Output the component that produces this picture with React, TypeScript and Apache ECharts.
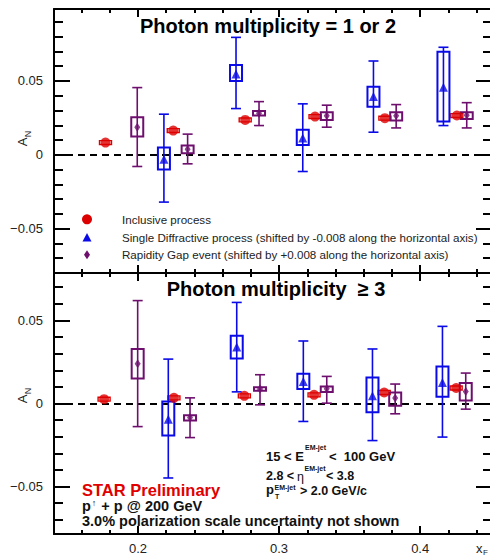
import React, { useEffect, useRef } from 'react';
import * as echarts from 'echarts';

// ---------- axis ranges & ticks ----------
const X_MIN = 0.1405;
const X_MAX = 0.4502;
const xMajorTicks = [0.2, 0.3, 0.4];
const xMajorLabels = ['0.2', '0.3', '0.4'];
const xMinorTicks = [0.16, 0.18, 0.22, 0.24, 0.26, 0.28, 0.32, 0.34, 0.36, 0.38, 0.42, 0.44];

const TOP_Y_MIN = -0.08;
const TOP_Y_MAX = 0.0987;
const BOT_Y_MIN = -0.0785;
const BOT_Y_MAX = 0.0785;
const yMajorTicks = [-0.05, 0, 0.05];
const yMajorLabels = ['\u22120.05', '0', '0.05'];
const topYMinorTicks = [-0.07, -0.06, -0.04, -0.03, -0.02, -0.01, 0.01, 0.02, 0.03, 0.04, 0.06, 0.07, 0.08, 0.09];
const botYMinorTicks = [-0.07, -0.06, -0.04, -0.03, -0.02, -0.01, 0.01, 0.02, 0.03, 0.04, 0.06, 0.07];

// ---------- top panel: photon multiplicity = 1 or 2 ----------
const topIncX = [0.177, 0.225, 0.276, 0.3255, 0.375, 0.426];
const topIncY = [0.0083, 0.0164, 0.0236, 0.0259, 0.0248, 0.0266];
const topIncSys = [0.0013, 0.0013, 0.0013, 0.0013, 0.0013, 0.0013];

const topSdX = [0.2184, 0.2695, 0.3168, 0.3669, 0.4165];
const topSdY = [-0.003, 0.0547, 0.0113, 0.0394, 0.0457];
const topSdErrLo = [-0.032, 0.0313, -0.0113, 0.0153, 0.0198];
const topSdErrHi = [0.0275, 0.0795, 0.0345, 0.0635, 0.0728];
const topSdBoxLo = [-0.01, 0.05, 0.0066, 0.0326, 0.0225];
const topSdBoxHi = [0.005, 0.0608, 0.0169, 0.0461, 0.0698];

const topRgX = [0.1995, 0.2352, 0.2858, 0.3338, 0.383, 0.433];
const topRgY = [0.0187, 0.0038, 0.0282, 0.0264, 0.0264, 0.0268];
const topRgErrLo = [-0.0079, -0.0061, 0.0198, 0.0187, 0.0182, 0.0182];
const topRgErrHi = [0.0455, 0.014, 0.036, 0.0336, 0.034, 0.0353];
const topRgBoxLo = [0.0124, 0.0011, 0.0266, 0.0236, 0.0232, 0.0243];
const topRgBoxHi = [0.0255, 0.0063, 0.0297, 0.0288, 0.0288, 0.0288];

// ---------- bottom panel: photon multiplicity >= 3 ----------
const botIncX = [0.176, 0.2255, 0.2754, 0.3248, 0.3745, 0.4255];
const botIncY = [0.0026, 0.0034, 0.0046, 0.0052, 0.0066, 0.0093];
const botIncSys = [0.0012, 0.0012, 0.0012, 0.0012, 0.0012, 0.0012];

const botSdX = [0.2215, 0.27, 0.3172, 0.3662, 0.4158];
const botSdY = [-0.0094, 0.034, 0.0133, 0.0046, 0.0127];
const botSdErrLo = [-0.0448, 0.007, -0.0108, -0.0223, -0.0202];
const botSdErrHi = [0.0267, 0.0608, 0.0376, 0.0328, 0.0464];
const botSdBoxLo = [-0.0193, 0.0271, 0.0087, -0.0052, 0.004];
const botSdBoxHi = [0.0012, 0.0408, 0.0179, 0.0157, 0.0223];

const botRgX = [0.1998, 0.2369, 0.2865, 0.3338, 0.3823, 0.4323];
const botRgY = [0.0239, -0.0084, 0.0087, 0.0089, 0.0033, 0.0072];
const botRgErrLo = [-0.0139, -0.0205, -0.0008, 0.0002, -0.0062, -0.0034];
const botRgErrHi = [0.0619, 0.0034, 0.0173, 0.0163, 0.0117, 0.0183];
const botRgBoxLo = [0.015, -0.0102, 0.0077, 0.0069, -0.0014, 0.0018];
const botRgBoxHi = [0.0328, -0.007, 0.0097, 0.0102, 0.0066, 0.0123];

// ---------- texts ----------
const topTitle = 'Photon multiplicity = 1 or 2';
const botTitle = 'Photon multiplicity  \u2265 3';
const legendNames = [
  'Inclusive process',
  'Single Diffractive process (shifted by -0.008 along the horizontal axis)',
  'Rapidity Gap event (shifted by +0.008 along the horizontal axis)',
];

const FONT = '"Liberation Sans", Arial, Helvetica, sans-serif';
const RED = '#dd0000';
const BLUE = '#0a0ae6';
const PURPLE = '#6e0f6e';
const BLACK = '#000';

const zip = (...arrs: number[][]) => arrs[0].map((_, i) => arrs.map((a) => a[i]));

function xAxes(gridIndex: number, withLabels: boolean) {
  const base = { gridIndex, type: 'value', min: X_MIN, max: X_MAX, splitLine: { show: false } };
  const tickStyle = { color: BLACK, width: 2 };
  return [
    {
      ...base,
      position: 'bottom',
      axisLine: { show: true, onZero: false, lineStyle: { color: BLACK, width: 2 } },
      axisTick: { show: true, inside: true, length: 8, customValues: xMajorTicks, lineStyle: tickStyle },
      axisLabel: {
        show: withLabels,
        customValues: xMajorTicks,
        margin: 8,
        fontSize: 13,
        fontFamily: FONT,
        color: '#222',
        formatter: (v: number) => xMajorLabels[xMajorTicks.findIndex((t) => Math.abs(t - v) < 1e-9)] ?? '',
      },
    },
    {
      ...base,
      position: 'bottom',
      axisLine: { show: false, onZero: false },
      axisTick: { show: true, inside: true, length: 4, customValues: xMinorTicks, lineStyle: tickStyle },
      axisLabel: { show: false },
    },
    {
      ...base,
      position: 'top',
      axisLine: { show: true, onZero: false, lineStyle: { color: BLACK, width: 2 } },
      axisTick: { show: true, inside: true, length: 8, customValues: xMajorTicks, lineStyle: tickStyle },
      axisLabel: { show: false },
    },
    {
      ...base,
      position: 'top',
      axisLine: { show: false, onZero: false },
      axisTick: { show: true, inside: true, length: 4, customValues: xMinorTicks, lineStyle: tickStyle },
      axisLabel: { show: false },
    },
  ];
}

function yAxes(gridIndex: number, min: number, max: number, minor: number[]) {
  const base = { gridIndex, type: 'value', min, max, splitLine: { show: false } };
  const tickStyle = { color: BLACK, width: 2 };
  return [
    {
      ...base,
      position: 'left',
      axisLine: { show: true, onZero: false, lineStyle: { color: BLACK, width: 2 } },
      axisTick: { show: true, inside: true, length: 16, customValues: yMajorTicks, lineStyle: tickStyle },
      axisLabel: {
        show: true,
        customValues: yMajorTicks,
        margin: 11,
        fontSize: 13,
        fontFamily: FONT,
        color: '#222',
        formatter: (v: number) => yMajorLabels[yMajorTicks.findIndex((t) => Math.abs(t - v) < 1e-9)] ?? '',
      },
    },
    {
      ...base,
      position: 'left',
      axisLine: { show: false, onZero: false },
      axisTick: { show: true, inside: true, length: 9, customValues: minor, lineStyle: tickStyle },
      axisLabel: { show: false },
    },
    {
      ...base,
      position: 'right',
      axisLine: { show: false, onZero: false },
      axisTick: { show: true, inside: true, length: 15, customValues: yMajorTicks, lineStyle: tickStyle },
      axisLabel: { show: false },
    },
    {
      ...base,
      position: 'right',
      axisLine: { show: false, onZero: false },
      axisTick: { show: true, inside: true, length: 8, customValues: minor, lineStyle: tickStyle },
      axisLabel: { show: false },
    },
  ];
}

function errorBarSeries(name: string, axisIdx: number, xs: number[], lo: number[], hi: number[], color: string) {
  return {
    name,
    type: 'custom',
    xAxisIndex: axisIdx,
    yAxisIndex: axisIdx,
    clip: false,
    encode: { x: 0, y: [1, 2] },
    data: zip(xs, lo, hi),
    renderItem: (_p: any, api: any) => {
      const x = api.value(0);
      const a = api.coord([x, api.value(1)]);
      const b = api.coord([x, api.value(2)]);
      const w = 5;
      const st = { stroke: color, lineWidth: 1.6 };
      return {
        type: 'group',
        children: [
          { type: 'line', shape: { x1: a[0], y1: a[1], x2: b[0], y2: b[1] }, style: st },
          { type: 'line', shape: { x1: a[0] - w, y1: a[1], x2: a[0] + w, y2: a[1] }, style: st },
          { type: 'line', shape: { x1: b[0] - w, y1: b[1], x2: b[0] + w, y2: b[1] }, style: st },
        ],
      };
    },
  };
}

function boxSeries(name: string, axisIdx: number, xs: number[], lo: number[], hi: number[], color: string, lw: number) {
  return {
    name,
    type: 'custom',
    xAxisIndex: axisIdx,
    yAxisIndex: axisIdx,
    clip: false,
    encode: { x: 0, y: [1, 2] },
    data: zip(xs, lo, hi),
    renderItem: (_p: any, api: any) => {
      const x = api.value(0);
      const a = api.coord([x, api.value(1)]);
      const b = api.coord([x, api.value(2)]);
      const hw = 6;
      return {
        type: 'rect',
        shape: { x: a[0] - hw, y: b[1], width: hw * 2, height: Math.max(a[1] - b[1], 3) },
        style: { stroke: color, fill: 'none', lineWidth: lw },
      };
    },
  };
}

function symmetricBox(ys: number[], sys: number[], sign: number) {
  return ys.map((y, i) => y + sign * sys[i]);
}

function panelSeries(
  axisIdx: number,
  inc: { x: number[]; y: number[]; sys: number[] },
  sd: { x: number[]; y: number[]; lo: number[]; hi: number[]; blo: number[]; bhi: number[] },
  rg: { x: number[]; y: number[]; lo: number[]; hi: number[]; blo: number[]; bhi: number[] },
) {
  return [
    boxSeries('incBox', axisIdx, inc.x, symmetricBox(inc.y, inc.sys, -1), symmetricBox(inc.y, inc.sys, 1), RED, 1.4),
    boxSeries('sdBox', axisIdx, sd.x, sd.blo, sd.bhi, BLUE, 2),
    boxSeries('rgBox', axisIdx, rg.x, rg.blo, rg.bhi, PURPLE, 2),
    errorBarSeries('sdErr', axisIdx, sd.x, sd.lo, sd.hi, BLUE),
    errorBarSeries('rgErr', axisIdx, rg.x, rg.lo, rg.hi, PURPLE),
    {
      name: legendNames[0],
      type: 'scatter',
      xAxisIndex: axisIdx,
      yAxisIndex: axisIdx,
      symbol: 'circle',
      symbolSize: 10,
      itemStyle: { color: RED },
      data: zip(inc.x, inc.y),
      markLine: {
        silent: true,
        symbol: 'none',
        label: { show: false },
        lineStyle: { color: BLACK, type: [7, 5], width: 2 },
        data: [{ yAxis: 0 }],
        z: 1,
      },
    },
    {
      name: legendNames[1],
      type: 'scatter',
      xAxisIndex: axisIdx,
      yAxisIndex: axisIdx,
      symbol: 'triangle',
      symbolSize: [9, 9],
      itemStyle: { color: BLUE },
      data: zip(sd.x, sd.y),
    },
    {
      name: legendNames[2],
      type: 'scatter',
      xAxisIndex: axisIdx,
      yAxisIndex: axisIdx,
      symbol: 'diamond',
      symbolSize: [6, 9],
      itemStyle: { color: PURPLE },
      data: zip(rg.x, rg.y),
    },
  ];
}

function txt(x: number, y: number, text: string, size: number, opts: any = {}) {
  return {
    type: 'text',
    x,
    y,
    rotation: opts.rotation ?? 0,
    style: {
      text,
      fontSize: size,
      fontFamily: FONT,
      fontWeight: opts.bold ? 'bold' : 'normal',
      fill: opts.color ?? '#111',
      align: opts.align ?? 'left',
      verticalAlign: 'middle',
      rich: opts.rich,
    },
    z: 100,
  };
}

export default function App() {
  const ref = useRef<HTMLDivElement>(null);
  useEffect(() => {
    if (!ref.current) return;
    const chart = echarts.init(ref.current, undefined, { renderer: 'svg' });
    const graphic: any[] = [
      // panel titles
      txt(268, 26, topTitle, 20, { bold: true, align: 'center', color: '#000' }),
      txt(276, 288.5, botTitle, 20, { bold: true, align: 'center', color: '#000' }),
      // y titles A_N
      txt(22, 142, 'A', 13, { rotation: Math.PI / 2, align: 'center', color: '#222' }),
      txt(28, 134, 'N', 9, { rotation: Math.PI / 2, align: 'center', color: '#222' }),
      txt(22, 399, 'A', 13, { rotation: Math.PI / 2, align: 'center', color: '#222' }),
      txt(28, 391, 'N', 9, { rotation: Math.PI / 2, align: 'center', color: '#222' }),
      // x title
      txt(476, 548.5, 'x', 13, { color: '#222' }),
      txt(483, 552, 'F', 8, { color: '#222' }),
      // legend
      { type: 'circle', shape: { cx: 87, cy: 219.3, r: 5 }, style: { fill: RED }, z: 100 },
      { type: 'polygon', shape: { points: [[87, 233], [91.5, 241.5], [82.5, 241.5]] }, style: { fill: BLUE }, z: 100 },
      { type: 'polygon', shape: { points: [[87, 250.2], [90, 254.7], [87, 259.2], [84, 254.7]] }, style: { fill: PURPLE }, z: 100 },
      txt(122, 219, legendNames[0], 11.6, { color: '#222' }),
      txt(122, 237, legendNames[1], 11.6, { color: '#222' }),
      txt(122, 254.5, legendNames[2], 11.6, { color: '#222' }),
      // kinematic cuts
      txt(266, 456.2, '15 < E', 13, { bold: true }),
      txt(305, 447, 'EM-jet', 7, { bold: true }),
      txt(329, 456.2, '<  100 GeV', 13, { bold: true }),
      txt(266, 475.8, '2.8 <', 12.5, { bold: true }),
      txt(297, 476.5, '\u03b7', 12.5, {}),
      txt(304.5, 468, 'EM-jet', 7, { bold: true }),
      txt(326, 475.8, '< 3.8', 12.5, { bold: true }),
      txt(266, 489.5, 'p', 13, { bold: true }),
      txt(274.5, 487, 'EM-jet', 7, { bold: true }),
      txt(275, 496.5, 'T', 7, { bold: true }),
      txt(300, 491, '> 2.0 GeV/c', 12.5, { bold: true }),
      // STAR labels
      txt(82, 490, 'STAR Preliminary', 16.5, { bold: true, color: '#e00000' }),
      txt(82, 506, 'p{up|\u2191} + p @ 200 GeV', 14.5, {
        bold: true,
        rich: { up: { fontSize: 9, fontWeight: 'normal', fontFamily: FONT, fill: '#111', padding: [0, 1, 7, 1] } },
      }),
      txt(82, 521, '3.0% polarization scale uncertainty not shown', 14.5, { bold: true }),
    ];

    const option: any = {
      animation: false,
      backgroundColor: '#fff',
      grid: [
        { left: 54, top: 9, width: 437, height: 264, containLabel: false, outerBoundsMode: 'none' },
        { left: 54, top: 273, width: 437, height: 261, containLabel: false, outerBoundsMode: 'none' },
      ],
      xAxis: [...xAxes(0, false), ...xAxes(1, true)],
      yAxis: [
        ...yAxes(0, TOP_Y_MIN, TOP_Y_MAX, topYMinorTicks),
        ...yAxes(1, BOT_Y_MIN, BOT_Y_MAX, botYMinorTicks),
      ],
      series: [
        ...panelSeries(
          0,
          { x: topIncX, y: topIncY, sys: topIncSys },
          { x: topSdX, y: topSdY, lo: topSdErrLo, hi: topSdErrHi, blo: topSdBoxLo, bhi: topSdBoxHi },
          { x: topRgX, y: topRgY, lo: topRgErrLo, hi: topRgErrHi, blo: topRgBoxLo, bhi: topRgBoxHi },
        ),
        ...panelSeries(
          4,
          { x: botIncX, y: botIncY, sys: botIncSys },
          { x: botSdX, y: botSdY, lo: botSdErrLo, hi: botSdErrHi, blo: botSdBoxLo, bhi: botSdBoxHi },
          { x: botRgX, y: botRgY, lo: botRgErrLo, hi: botRgErrHi, blo: botRgBoxLo, bhi: botRgBoxHi },
        ),
      ],
      graphic,
    };
    chart.setOption(option);
    return () => chart.dispose();
  }, []);
  return (
    <div
      ref={ref}
      style={{ position: 'absolute', left: 0, top: 0, width: 490, height: 555, background: '#fff' }}
    />
  );
}
